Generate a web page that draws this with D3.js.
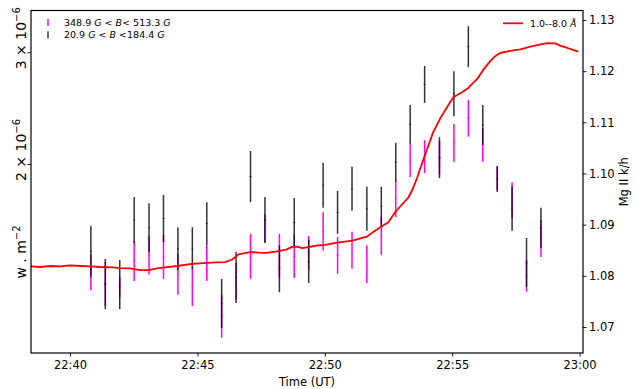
<!DOCTYPE html>
<html>
<head>
<meta charset="utf-8">
<script src="https://cdn.jsdelivr.net/npm/d3@7"></script>
<style>
  body { margin: 0; background: #fff; }
  svg { display: block; }
  text { font-family: "DejaVu Sans", sans-serif; fill: #000; }
</style>
</head>
<body>
<div id="vis"></div>
<script>
// Mg II k/h ratio, measured in two field strength bins
const barTimes = ['22:40:49', '22:41:23', '22:41:57', '22:42:31', '22:43:06', '22:43:40',
  '22:44:14', '22:44:48', '22:45:22', '22:45:57', '22:46:31', '22:47:05', '22:47:39',
  '22:48:13', '22:48:48', '22:49:22', '22:49:56', '22:50:30', '22:51:04', '22:51:39',
  '22:52:13', '22:52:47', '22:53:21', '22:53:55', '22:54:30', '22:55:04', '22:55:38',
  '22:56:12', '22:56:46', '22:57:21', '22:57:55', '22:58:29'];

const strongRatio = [1.0807, 1.0784, 1.0778, 1.0829, 1.0840, 1.0837, 1.0803, 1.0779,
  1.0825, 1.0721, 1.0789, 1.0838, 1.0893, 1.0839, 1.0838, 1.0845, 1.0887, 1.0840,
  1.0850, 1.0823, 1.0878, 1.0951, 1.1026, 1.1033, 1.1030, 1.1060, 1.1108, 1.1056,
  1.0991, 1.0948, 1.0800, 1.0873];
const strongErr = [0.0035, 0.0043, 0.0020, 0.0039, 0.0038, 0.0043, 0.0040, 0.0038,
  0.0035, 0.0042, 0.0036, 0.0044, 0.0028, 0.0043, 0.0042, 0.0033, 0.0038, 0.0036,
  0.0036, 0.0037, 0.0037, 0.0036, 0.0033, 0.0032, 0.0033, 0.0037, 0.0036, 0.0033,
  0.0023, 0.0035, 0.0031, 0.0036];

const weakRatio = [1.0848, 1.0784, 1.0783, 1.0909, 1.0894, 1.0912, 1.0853, 1.0854,
  1.0902, 1.0746, 1.0797, 1.0994, 1.0909, 1.0814, 1.0904, 1.0828, 1.0977, 1.0924,
  1.0970, 1.0931, 1.0936, 1.1022, 1.1096, 1.1174, 1.1031, 1.1156, 1.1248, 1.1095,
  1.0989, 1.0931, 1.0826, 1.0894];
const weakErr = [0.0050, 0.0049, 0.0048, 0.0045, 0.0048, 0.0046, 0.0042, 0.0041,
  0.0042, 0.0048, 0.0050, 0.0050, 0.0045, 0.0046, 0.0048, 0.0042, 0.0044, 0.0042,
  0.0043, 0.0043, 0.0038, 0.0038, 0.0038, 0.0036, 0.0040, 0.0044, 0.0040, 0.0039,
  0.0025, 0.0043, 0.0048, 0.0039];

// GOES 1-8 A flux (W m^-2)
const goesTimes = ['22:38:28', '22:38:49', '22:39:13', '22:39:36', '22:40:00', '22:40:24',
  '22:40:47', '22:41:11', '22:41:41', '22:41:58', '22:42:21', '22:42:45', '22:43:04',
  '22:43:25', '22:43:44', '22:44:12', '22:44:43', '22:45:13', '22:45:42', '22:46:05',
  '22:46:22', '22:46:36', '22:47:04', '22:47:23', '22:47:42', '22:48:05', '22:48:29',
  '22:48:43', '22:48:55', '22:49:07', '22:49:26', '22:49:44', '22:50:01', '22:50:29',
  '22:51:05', '22:51:28', '22:51:40', '22:51:54', '22:52:15', '22:52:29', '22:52:46',
  '22:53:05', '22:53:17', '22:53:28', '22:53:38', '22:53:45', '22:54:01', '22:54:15',
  '22:54:32', '22:54:51', '22:55:03', '22:55:12', '22:55:24', '22:55:38', '22:55:47',
  '22:55:59', '22:56:13', '22:56:30', '22:56:42', '22:56:53', '22:57:10', '22:57:24',
  '22:57:41', '22:58:04', '22:58:28', '22:58:44', '22:59:03', '22:59:15', '22:59:31',
  '22:59:45', '22:59:57', '23:00:09'];
const goesFlux = [1.379, 1.376, 1.381, 1.379, 1.384, 1.381, 1.379, 1.376, 1.374, 1.370,
  1.369, 1.361, 1.361, 1.369, 1.374, 1.381, 1.391, 1.396, 1.399, 1.401, 1.414, 1.440,
  1.453, 1.450, 1.448, 1.455, 1.466, 1.480, 1.482, 1.474, 1.481, 1.488, 1.491, 1.503,
  1.514, 1.529, 1.537, 1.563, 1.597, 1.617, 1.680, 1.736, 1.771, 1.833, 1.908, 1.971,
  2.112, 2.243, 2.361, 2.478, 2.551, 2.569, 2.598, 2.636, 2.674, 2.723, 2.814, 2.907,
  2.960, 2.992, 3.009, 3.020, 3.031, 3.062, 3.086, 3.100, 3.098, 3.070, 3.047, 3.025,
  3.007].map(v => v * 1e-6);

const xTicks = ['22:40', '22:45', '22:50', '22:55', '23:00'];
const fluxTicks = [3e-6, 2e-6];
const fluxTickLabels = ['3', '2'];
const ratioTicks = [1.07, 1.08, 1.09, 1.10, 1.11, 1.12, 1.13];

const seriesNames = ['348.9 G < B< 513.3 G', '20.9 G < B <184.4 G'];
const goesName = '1.0--8.0 Å';


const parseTime = s => {
  const [h, m, sec] = s.split(':').map(Number);
  return new Date(Date.UTC(2000, 0, 1, h, m, sec || 0));
};

const width = 636;
const height = 389;
const margin = {top: 10.5, right: 53, bottom: 36, left: 31};

const svg = d3.select('#vis').append('svg')
    .attr('width', width)
    .attr('height', height);

const x = d3.scaleUtc()
    .domain([parseTime('22:38:28'), parseTime('23:00:08')])
    .range([margin.left, width - margin.right]);

const yFlux = d3.scaleLog()
    .domain([1.0071e-6, 3.491e-6])
    .range([height - margin.bottom, margin.top]);

const yRatio = d3.scaleLinear()
    .domain([1.06492, 1.13186])
    .range([height - margin.bottom, margin.top]);

const colors = {strong: '#ff00ff', weak: '#000000', goes: '#ff0000'};

// error bars, strong field bin first so the weak bin lies on top
const bars = [
  {key: 'strong', center: strongRatio, err: strongErr, opacity: 1},
  {key: 'weak', center: weakRatio, err: weakErr, opacity: 0.8},
];

bars.forEach(s => {
  const g = svg.append('g')
      .attr('class', 'bars-' + s.key)
      .attr('stroke', colors[s.key])
      .attr('stroke-opacity', s.opacity)
      .attr('stroke-width', 1.5);

  const data = barTimes.map((t, i) => ({t: parseTime(t), c: s.center[i], e: s.err[i]}));

  g.selectAll('line.bar')
    .data(data)
    .join('line')
      .attr('class', 'bar')
      .attr('x1', d => x(d.t))
      .attr('x2', d => x(d.t))
      .attr('y1', d => yRatio(d.c - d.e))
      .attr('y2', d => yRatio(d.c + d.e));

  g.selectAll('line.mid')
    .data(data)
    .join('line')
      .attr('class', 'mid')
      .attr('stroke-width', 0.8)
      .attr('x1', d => x(d.t) - 1)
      .attr('x2', d => x(d.t) + 1)
      .attr('y1', d => yRatio(d.c))
      .attr('y2', d => yRatio(d.c));
});

// GOES curve
const goes = goesTimes.map((t, i) => ({t: parseTime(t), v: goesFlux[i]}));

svg.append('path')
    .datum(goes)
    .attr('fill', 'none')
    .attr('stroke', colors.goes)
    .attr('stroke-width', 1.8)
    .attr('stroke-linejoin', 'round')
    .attr('d', d3.line().x(d => x(d.t)).y(d => yFlux(d.v)));

// frame
svg.append('rect')
    .attr('x', margin.left)
    .attr('y', margin.top)
    .attr('width', width - margin.left - margin.right)
    .attr('height', height - margin.top - margin.bottom)
    .attr('fill', 'none')
    .attr('stroke', '#000')
    .attr('stroke-width', 1.2);

// x axis
const xAxis = svg.append('g')
    .attr('transform', `translate(0, ${height - margin.bottom})`)
    .call(d3.axisBottom(x)
      .tickValues(xTicks.map(parseTime))
      .tickFormat(d3.utcFormat('%H:%M'))
      .tickSize(3.5)
      .tickPadding(4));
xAxis.select('.domain').remove();
xAxis.selectAll('text').attr('font-size', 11.5).attr('font-family', 'DejaVu Sans');
xAxis.selectAll('line').attr('stroke-width', 0.9);

svg.append('text')
    .attr('x', (margin.left + width - margin.right) / 2)
    .attr('y', 386)
    .attr('text-anchor', 'middle')
    .attr('font-size', 11.5)
    .text('Time (UT)');

// right axis
const rAxis = svg.append('g')
    .attr('transform', `translate(${width - margin.right}, 0)`)
    .call(d3.axisRight(yRatio)
      .tickValues(ratioTicks)
      .tickFormat(d3.format('.2f'))
      .tickSize(3.5)
      .tickPadding(2.5));
rAxis.select('.domain').remove();
rAxis.selectAll('text').attr('font-size', 11.5).attr('font-family', 'DejaVu Sans');
rAxis.selectAll('line').attr('stroke-width', 0.9);

svg.append('text')
    .attr('transform', `translate(628, ${(margin.top + height - margin.bottom) / 2}) rotate(-90)`)
    .attr('text-anchor', 'middle')
    .attr('font-size', 11.5)
    .text('Mg II k/h');

// left axis (log, minor labels)
const lAxis = svg.append('g')
    .attr('transform', `translate(${margin.left}, 0)`)
    .call(d3.axisLeft(yFlux)
      .tickValues(fluxTicks)
      .tickFormat('')
      .tickSize(3.5));
lAxis.select('.domain').remove();
lAxis.selectAll('line').attr('stroke-width', 0.9);

fluxTicks.forEach((v, i) => {
  const t = svg.append('text')
      .attr('transform', `translate(26, ${yFlux(v) - 14}) rotate(-90)`)
      .attr('text-anchor', 'middle')
      .attr('font-family', 'Liberation Serif, serif')
      .attr('font-size', 14);
  t.append('tspan').text(fluxTickLabels[i] + ' × 10');
  t.append('tspan').attr('dy', -6).attr('font-size', 10).text('−6');
});

const unit = svg.append('text')
    .attr('transform', 'translate(26, 252) rotate(-90)')
    .attr('text-anchor', 'middle')
    .attr('font-family', 'Liberation Serif, serif')
    .attr('font-size', 14);
unit.append('tspan').text('w . m');
unit.append('tspan').attr('dy', -6).attr('font-size', 10).text('−2');

// legends
const legend = svg.append('g').attr('font-size', 9.5);

['strong', 'weak'].forEach((key, i) => {
  const yy = 22.5 + i * 12.3;
  legend.append('line')
      .attr('x1', 48).attr('x2', 48)
      .attr('y1', yy - 3.5).attr('y2', yy + 3.5)
      .attr('stroke', colors[key])
      .attr('stroke-opacity', key === 'weak' ? 0.8 : 1)
      .attr('stroke-width', 1.5);

  const parts = seriesNames[i].split(/([GB])/);
  const t = legend.append('text')
      .attr('x', 64)
      .attr('y', yy)
      .attr('dy', '0.35em');
  parts.forEach(p => {
    if (!p) return;
    t.append('tspan')
        .attr('font-style', p === 'G' || p === 'B' ? 'italic' : null)
        .attr('xml:space', 'preserve')
        .text(p);
  });
});

legend.append('line')
    .attr('x1', 503).attr('x2', 523)
    .attr('y1', 23.3).attr('y2', 23.3)
    .attr('stroke', colors.goes)
    .attr('stroke-width', 1.8);

const gl = legend.append('text')
    .attr('x', 530)
    .attr('y', 23.3)
    .attr('dy', '0.35em');
gl.append('tspan').text(goesName.slice(0, -1));
gl.append('tspan').attr('font-style', 'italic').text(goesName.slice(-1));
</script>
</body>
</html>
